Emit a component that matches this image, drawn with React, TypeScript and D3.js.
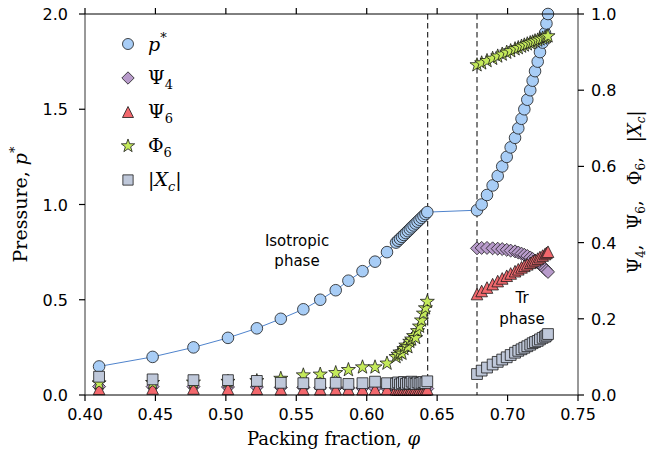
import React from "react";
import * as d3 from "d3";

// ---------- data ----------
const phiIso = [0.410, 0.448, 0.477, 0.5015, 0.522, 0.539, 0.555, 0.567, 0.578, 0.587, 0.597, 0.6059, 0.6144,
  0.6208, 0.6222, 0.6236, 0.6250, 0.6264, 0.6278, 0.6292, 0.6306, 0.6319, 0.6333, 0.6347, 0.6361, 0.6375, 0.6389, 0.6403, 0.6417, 0.6430];
const pIso = [0.15, 0.20, 0.25, 0.30, 0.35, 0.40, 0.45, 0.50, 0.55, 0.60, 0.65, 0.70, 0.75,
  0.80, 0.81, 0.82, 0.83, 0.84, 0.85, 0.86, 0.87, 0.88, 0.89, 0.90, 0.91, 0.92, 0.93, 0.94, 0.95, 0.96];
const psi4Iso = [0.022, 0.022, 0.022, 0.021, 0.021, 0.020, 0.020, 0.019, 0.019, 0.019, 0.018, 0.018, 0.018,
  0.018, 0.017, 0.018, 0.017, 0.017, 0.018, 0.017, 0.017, 0.018, 0.017, 0.017, 0.018, 0.017, 0.017, 0.018, 0.017, 0.017];
const psi6Iso = [0.016, 0.017, 0.017, 0.016, 0.016, 0.015, 0.015, 0.015, 0.015, 0.015, 0.015, 0.015, 0.015,
  0.015, 0.014, 0.015, 0.014, 0.015, 0.014, 0.015, 0.014, 0.015, 0.014, 0.015, 0.014, 0.015, 0.014, 0.015, 0.014, 0.015];
const phi6Iso = [0.031, 0.032, 0.033, 0.035, 0.037, 0.043, 0.052, 0.054, 0.058, 0.066, 0.073, 0.073, 0.083,
  0.100, 0.106, 0.112, 0.109, 0.121, 0.130, 0.126, 0.140, 0.146, 0.155, 0.150, 0.168, 0.180, 0.196, 0.214, 0.228, 0.245];
const xcIso = [0.048, 0.041, 0.039, 0.039, 0.037, 0.032, 0.031, 0.029, 0.032, 0.029, 0.031, 0.035, 0.031,
  0.030, 0.033, 0.028, 0.031, 0.034, 0.029, 0.032, 0.030, 0.035, 0.031, 0.029, 0.033, 0.030, 0.032, 0.034, 0.031, 0.036];

const phiTr = [0.6783, 0.6816, 0.6854, 0.6894, 0.6930, 0.6962, 0.6994, 0.7022, 0.7053, 0.7076, 0.7099,
  0.7119, 0.7140, 0.7161, 0.7178, 0.7195, 0.7214, 0.7230, 0.7249, 0.7266, 0.7276, 0.7287];
const pTr = [0.97, 1.00, 1.05, 1.10, 1.15, 1.20, 1.25, 1.30, 1.35, 1.40, 1.45,
  1.50, 1.55, 1.60, 1.65, 1.70, 1.75, 1.80, 1.85, 1.90, 1.95, 2.00];
const psi4Tr = [0.385, 0.386, 0.386, 0.385, 0.384, 0.383, 0.381, 0.379, 0.377, 0.374, 0.371,
  0.368, 0.365, 0.361, 0.357, 0.353, 0.348, 0.343, 0.337, 0.331, 0.327, 0.323];
const psi6Tr = [0.265, 0.273, 0.282, 0.291, 0.299, 0.306, 0.313, 0.319, 0.325, 0.330, 0.335,
  0.339, 0.343, 0.347, 0.351, 0.354, 0.358, 0.362, 0.366, 0.370, 0.373, 0.376];
const phi6Tr = [0.866, 0.871, 0.877, 0.883, 0.889, 0.894, 0.899, 0.903, 0.908, 0.911, 0.915,
  0.918, 0.921, 0.924, 0.926, 0.929, 0.931, 0.934, 0.936, 0.938, 0.940, 0.942];
const xcTr = [0.055, 0.064, 0.072, 0.080, 0.087, 0.093, 0.099, 0.105, 0.111, 0.116, 0.120,
  0.124, 0.128, 0.132, 0.136, 0.139, 0.142, 0.146, 0.150, 0.153, 0.156, 0.160];

const transitions = [0.6433, 0.6783];
const xTicks = [0.40, 0.45, 0.50, 0.55, 0.60, 0.65, 0.70, 0.75];
const xTickLabels = ["0.40", "0.45", "0.50", "0.55", "0.60", "0.65", "0.70", "0.75"];
const yLeftTicks = [0, 0.5, 1.0, 1.5, 2.0];
const yLeftLabels = ["0.0", "0.5", "1.0", "1.5", "2.0"];
const yRightTicks = [0, 0.2, 0.4, 0.6, 0.8, 1.0];
const yRightLabels = ["0.0", "0.2", "0.4", "0.6", "0.8", "1.0"];

// ---------- styles ----------
const C_LINE = "#4f83cc";
const C_CIRCLE = "#a8cdf6";
const C_DIAMOND = "#b89bcb";
const C_TRI = "#f2686d";
const C_STAR = "#c4ea5b";
const C_SQUARE = "#bfc8da";
const EDGE = "#1a1a1a";
const SANS = "'DejaVu Sans', sans-serif";
const SERIF = "'DejaVu Serif', serif";

const W = 652, H = 457;
const L = 85, R = 578, T = 14, B = 395;

const x = d3.scaleLinear().domain([0.4, 0.75]).range([L, R]);
const yL = d3.scaleLinear().domain([0, 2]).range([B, T]);
const yR = d3.scaleLinear().domain([0, 1]).range([B, T]);

function squarePath(cx: number, cy: number, s: number) {
  return `M${cx - s},${cy - s}H${cx + s}V${cy + s}H${cx - s}Z`;
}
function diamondPath(cx: number, cy: number, r: number) {
  return `M${cx},${cy - r}L${cx + r},${cy}L${cx},${cy + r}L${cx - r},${cy}Z`;
}
function triPath(cx: number, cy: number, r: number) {
  return `M${cx},${cy - r}L${cx + r},${cy + r}L${cx - r},${cy + r}Z`;
}
function starPath(cx: number, cy: number, ro: number) {
  const ri = ro * 0.4;
  const pts: string[] = [];
  for (let i = 0; i < 10; i++) {
    const a = -Math.PI / 2 + (i * Math.PI) / 5;
    const rr = i % 2 === 0 ? ro : ri;
    pts.push(`${cx + rr * Math.cos(a)},${cy + rr * Math.sin(a)}`);
  }
  return "M" + pts.join("L") + "Z";
}

const sw = 0.8;
const CR = 5.8, SQ = 5.4, DM = 6.5, TR = 5.8, ST = 7.4;

export default function App() {
  const phiAll = [...phiIso, ...phiTr];
  const pAll = [...pIso, ...pTr];
  const psi4All = [...psi4Iso, ...psi4Tr];
  const psi6All = [...psi6Iso, ...psi6Tr];
  const phi6All = [...phi6Iso, ...phi6Tr];
  const xcAll = [...xcIso, ...xcTr];

  const line = d3.line<number>().x((d, i) => x(phiAll[i])).y((d) => yL(d));

  const legendItems = [
    { y: 44, kind: "c" },
    { y: 78, kind: "d" },
    { y: 112, kind: "t" },
    { y: 146, kind: "s" },
    { y: 180, kind: "q" },
  ];
  const lx = 128;

  const marker = (kind: string, cx: number, cy: number, key: any, scale = 1) => {
    if (kind === "c") return <circle key={key} cx={cx} cy={cy} r={CR * scale} fill={C_CIRCLE} stroke={EDGE} strokeWidth={sw} />;
    if (kind === "d") return <path key={key} d={diamondPath(cx, cy, DM * scale)} fill={C_DIAMOND} stroke={EDGE} strokeWidth={sw} />;
    if (kind === "t") return <path key={key} d={triPath(cx, cy, TR * scale)} fill={C_TRI} stroke={EDGE} strokeWidth={sw} />;
    if (kind === "s") return <path key={key} d={starPath(cx, cy, ST * scale)} fill={C_STAR} stroke={EDGE} strokeWidth={sw} />;
    return <path key={key} d={squarePath(cx, cy, SQ * scale)} fill={C_SQUARE} stroke={EDGE} strokeWidth={sw} />;
  };

  return (
    <svg width={W} height={H} style={{ position: "absolute", left: 0, top: 0, background: "#fff" }}>
      <rect x={0} y={0} width={W} height={H} fill="#fff" />
      {/* dashed transition lines */}
      {transitions.map((t, i) => (
        <line key={i} x1={x(t)} x2={x(t)} y1={T} y2={B} stroke="#000" strokeWidth={1} strokeDasharray="5.5,3.5" />
      ))}
      {/* pressure line */}
      <path d={line(pAll) || ""} fill="none" stroke={C_LINE} strokeWidth={1} />
      {/* markers */}
      {phiAll.map((p, i) => marker("c", x(p), yL(pAll[i]), "c" + i))}
      {phiAll.map((p, i) => marker("d", x(p), yR(psi4All[i]), "d" + i))}
      {phiAll.map((p, i) => marker("t", x(p), yR(psi6All[i]), "t" + i))}
      {phiAll.map((p, i) => marker("s", x(p), yR(phi6All[i]), "s" + i))}
      {phiAll.map((p, i) => marker("q", x(p), yR(xcAll[i]), "q" + i))}

      {/* frame */}
      <line x1={L} x2={R} y1={T} y2={T} stroke="#000" strokeWidth={1} />
      <line x1={L} x2={R} y1={B} y2={B} stroke="#000" strokeWidth={1} />
      <line x1={L} x2={L} y1={T} y2={B} stroke="#333" strokeWidth={1} />
      <line x1={R} x2={R} y1={T} y2={B} stroke="#333" strokeWidth={1} />

      {/* ticks */}
      {xTicks.map((t, i) => (
        <g key={"xt" + i}>
          <line x1={x(t)} x2={x(t)} y1={B} y2={B + 6} stroke="#000" strokeWidth={1.2} />
          <line x1={x(t)} x2={x(t)} y1={T} y2={T - 6} stroke="#000" strokeWidth={1.2} />
          <text x={x(t)} y={B + 25} textAnchor="middle" fontFamily={SANS} fontSize={16} fill="#000">{xTickLabels[i]}</text>
        </g>
      ))}
      {yLeftTicks.map((t, i) => (
        <g key={"yl" + i}>
          <line x1={L} x2={L - 6} y1={yL(t)} y2={yL(t)} stroke="#000" strokeWidth={1.2} />
          <text x={L - 17} y={yL(t) + 6} textAnchor="end" fontFamily={SANS} fontSize={16} fill="#000">{yLeftLabels[i]}</text>
        </g>
      ))}
      {yRightTicks.map((t, i) => (
        <g key={"yr" + i}>
          <line x1={R} x2={R + 6} y1={yR(t)} y2={yR(t)} stroke="#000" strokeWidth={1.2} />
          <text x={R + 13} y={yR(t) + 6} textAnchor="start" fontFamily={SANS} fontSize={16} fill="#000">{yRightLabels[i]}</text>
        </g>
      ))}

      {/* axis labels */}
      <text x={(L + R) / 2 + 2} y={445} textAnchor="middle" fontFamily={SERIF} fontSize={18} fill="#000">
        Packing fraction, <tspan fontStyle="italic">φ</tspan>
      </text>
      <text transform={`translate(27,${(T + B) / 2}) rotate(-90)`} textAnchor="middle" fontFamily={SERIF} fontSize={19} fill="#000">
        Pressure, <tspan fontStyle="italic">p</tspan><tspan fontSize={13} dy={-8}>*</tspan>
      </text>
      <text transform={`translate(641,192) rotate(-90)`} textAnchor="middle" fontFamily={SERIF} fontSize={18} fill="#000">
        Ψ<tspan fontSize={12} dy={4}>4</tspan><tspan dy={-4}>,</tspan>
        <tspan dx={15}>Ψ</tspan><tspan fontSize={12} dy={4}>6</tspan><tspan dy={-4}>,</tspan>
        <tspan dx={15}>Φ</tspan><tspan fontSize={12} dy={4}>6</tspan><tspan dy={-4}>,</tspan>
        <tspan dx={15}>|</tspan><tspan fontStyle="italic">X</tspan><tspan fontSize={12} fontStyle="italic" dy={4}>c</tspan><tspan dy={-4}>|</tspan>
      </text>

      {/* annotations */}
      <text x={297} y={246} textAnchor="middle" fontFamily={SANS} fontSize={15} fill="#000">Isotropic</text>
      <text x={297} y={266} textAnchor="middle" fontFamily={SANS} fontSize={15} fill="#000">phase</text>
      <text x={522} y={303} textAnchor="middle" fontFamily={SANS} fontSize={15} fill="#000">Tr</text>
      <text x={522} y={324} textAnchor="middle" fontFamily={SANS} fontSize={15} fill="#000">phase</text>

      {/* legend */}
      {legendItems.map((it, i) => marker(it.kind, lx, it.y, "lg" + i, 0.95))}
      <text x={148} y={51} fontFamily={SERIF} fontSize={19} fill="#000">
        <tspan fontStyle="italic">p</tspan><tspan fontSize={13} dy={-9}>*</tspan>
      </text>
      <text x={148} y={84} fontFamily={SERIF} fontSize={19} fill="#000">
        Ψ<tspan fontSize={13} dy={5}>4</tspan>
      </text>
      <text x={148} y={118} fontFamily={SERIF} fontSize={19} fill="#000">
        Ψ<tspan fontSize={13} dy={5}>6</tspan>
      </text>
      <text x={148} y={152} fontFamily={SERIF} fontSize={19} fill="#000">
        Φ<tspan fontSize={13} dy={5}>6</tspan>
      </text>
      <text x={148} y={186} fontFamily={SERIF} fontSize={19} fill="#000">
        |<tspan fontStyle="italic">X</tspan><tspan fontSize={13} fontStyle="italic" dy={5}>c</tspan><tspan dy={-5}>|</tspan>
      </text>
    </svg>
  );
}
